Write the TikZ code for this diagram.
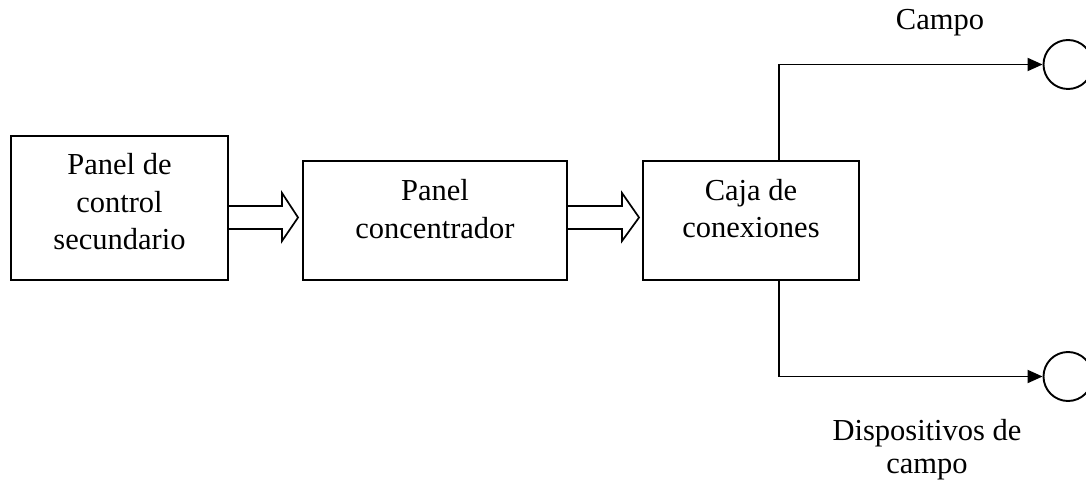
\documentclass[tikz,border=0pt]{standalone}
\usepackage{fontspec}
\setmainfont{Liberation Serif}
\usetikzlibrary{arrows.meta,calc}
\begin{document}
\begin{tikzpicture}[x=1pt,y=-1pt,
  blk/.style={draw,line width=1.9pt,inner sep=0pt},
  txt/.style={align=center,inner sep=0pt,font=\fontsize{30.5}{37.5}\selectfont},
  fat/.style={draw,line width=1.7pt,line join=miter},
  wire/.style={draw,line width=1.9pt,-{Triangle[length=15pt,width=13pt]}},
  dev/.style={draw,circle,line width=1.9pt,minimum size=49pt,inner sep=0pt}]
\useasboundingbox (0,0) rectangle (1086,486);
% boxes
\node[blk,minimum width=217pt,minimum height=144pt] (b1) at (119.5,208) {};
\node[blk,minimum width=264pt,minimum height=119pt] (b2) at (435,220.5) {};
\node[blk,minimum width=216pt,minimum height=119pt] (b3) at (751,220.5) {};
\node[txt] (t1) at (119.5,202) {Panel de\\control\\secundario};
\node[txt] (t2) at (435,209) {Panel\\concentrador};
\node[txt] (t3) at (751,208.5) {Caja de\\conexiones};
% devices
\node[dev] (c1) at (1068,64.5) {};
\node[dev] (c2) at (1068,376.5) {};
\coordinate (j) at (779,0);
% fat arrows
\draw[fat] (b1.east |- 0,206) -- (282,206) -- (282,193) -- ($(b2.west |- 0,217.5)+(-4,0)$)
  -- (282,241) -- (282,229) -- (b1.east |- 0,229);
\draw[fat] (b2.east |- 0,206) -- (622,206) -- (622,193) -- ($(b3.west |- 0,217.5)+(-3,0)$)
  -- (622,241) -- (622,229) -- (b2.east |- 0,229);
% wires
\draw[wire] (b3.north -| j) |- (c1);
\draw[wire] (b3.south -| j) |- (c2);
% labels
\node[txt] (l1) at (940,23) {Campo};
\node[txt,font=\fontsize{30.5}{33}\selectfont] (l2) at (927,449.5) {Dispositivos de\\campo};
\end{tikzpicture}
\end{document}
